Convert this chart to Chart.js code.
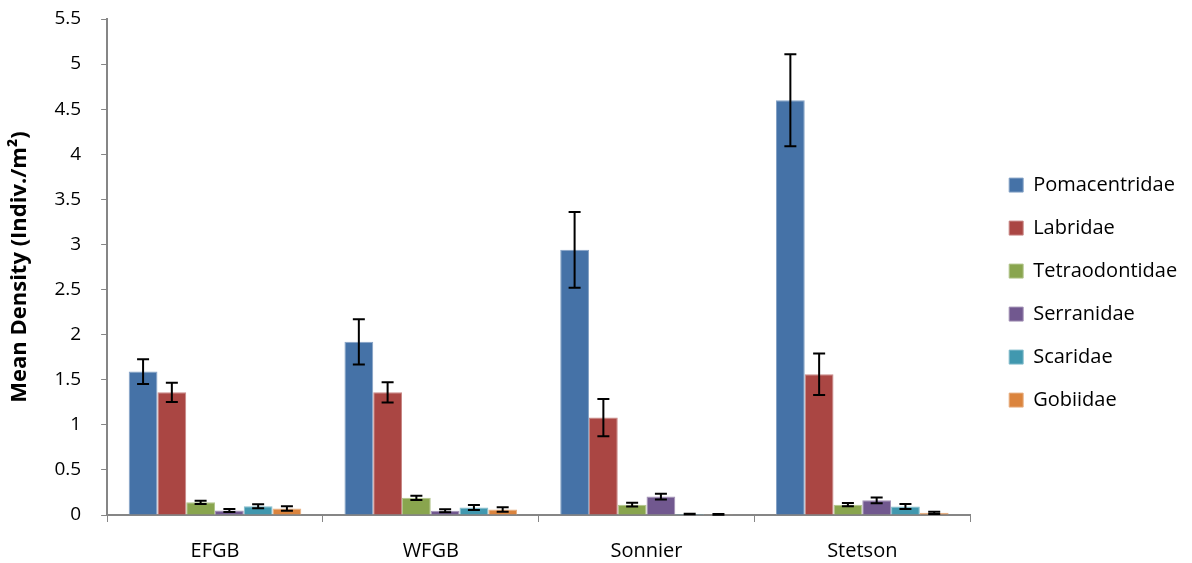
<!DOCTYPE html>
<html>
<head>
<meta charset="utf-8">
<script src="https://cdn.jsdelivr.net/npm/chart.js@4.4.1/dist/chart.umd.min.js"></script>
<style>
  html, body { margin: 0; padding: 0; background: #ffffff; }
  #wrap { width: 1192px; height: 563px; position: relative; }
</style>
</head>
<body>
<div id="wrap"><canvas id="c"></canvas></div>
<script>
const categories = ['EFGB', 'WFGB', 'Sonnier', 'Stetson'];
const seriesNames = ['Pomacentridae', 'Labridae', 'Tetraodontidae', 'Serranidae', 'Scaridae', 'Gobiidae'];
const seriesColors = ['#4572A7', '#AA4643', '#89A54E', '#71588F', '#4198AF', '#DB843D'];

const pomacentridae = [1.59, 1.92, 2.94, 4.60];
const labridae = [1.36, 1.36, 1.08, 1.56];
const tetraodontidae = [0.14, 0.19, 0.115, 0.115];
const serranidae = [0.05, 0.047, 0.205, 0.163];
const scaridae = [0.098, 0.083, 0.01, 0.094];
const gobiidae = [0.072, 0.062, 0.007, 0.024];

const pomacentridaeErr = [0.136, 0.25, 0.42, 0.51];
const labridaeErr = [0.106, 0.113, 0.207, 0.23];
const tetraodontidaeErr = [0.018, 0.024, 0.022, 0.017];
const serranidaeErr = [0.016, 0.016, 0.032, 0.032];
const scaridaeErr = [0.022, 0.027, 0.003, 0.028];
const gobiidaeErr = [0.026, 0.025, 0.003, 0.012];

const yTickValues = [0, 0.5, 1, 1.5, 2, 2.5, 3, 3.5, 4, 4.5, 5, 5.5];
const yTickLabels = ['0', '0.5', '1', '1.5', '2', '2.5', '3', '3.5', '4', '4.5', '5', '5.5'];

const seriesValues = [pomacentridae, labridae, tetraodontidae, serranidae, scaridae, gobiidae];
const seriesErrors = [pomacentridaeErr, labridaeErr, tetraodontidaeErr, serranidaeErr, scaridaeErr, gobiidaeErr];

function lighten(hex, amt) {
  const n = parseInt(hex.slice(1), 16);
  let r = (n >> 16) & 255, g = (n >> 8) & 255, b = n & 255;
  r = Math.round(r + (255 - r) * amt); g = Math.round(g + (255 - g) * amt); b = Math.round(b + (255 - b) * amt);
  return 'rgb(' + r + ',' + g + ',' + b + ')';
}

const datasets = seriesNames.map((name, i) => ({
  label: name,
  data: seriesValues[i],
  errors: seriesErrors[i],
  backgroundColor: seriesColors[i],
  borderColor: lighten(seriesColors[i], 0.35),
  borderWidth: 1,
  borderSkipped: 'bottom',
  yAxisID: 'y'
}));

const errorBarPlugin = {
  id: 'errorBars',
  afterDatasetsDraw(chart) {
    const ctx = chart.ctx;
    const yScale = chart.scales.y;
    ctx.save();
    ctx.strokeStyle = '#000000';
    ctx.lineWidth = 2;
    chart.data.datasets.forEach((ds, di) => {
      const meta = chart.getDatasetMeta(di);
      if (meta.hidden) return;
      meta.data.forEach((bar, i) => {
        const v = ds.data[i], e = ds.errors[i];
        const x = bar.x;
        const yTop = yScale.getPixelForValue(v + e);
        const yBot = yScale.getPixelForValue(Math.max(0, v - e));
        const cap = 6;
        ctx.beginPath();
        ctx.moveTo(x, yTop); ctx.lineTo(x, yBot);
        ctx.moveTo(x - cap, yTop); ctx.lineTo(x + cap, yTop);
        ctx.moveTo(x - cap, yBot); ctx.lineTo(x + cap, yBot);
        ctx.stroke();
      });
    });
    ctx.restore();
  }
};

const FONT = "'Open Sans', 'Liberation Sans', sans-serif";
Chart.defaults.font.family = FONT;
Chart.defaults.color = '#000000';

new Chart(document.getElementById('c'), {
  type: 'bar',
  data: { labels: categories, datasets: datasets },
  options: {
    responsive: true,
    maintainAspectRatio: false,
    animation: false,
    datasets: { bar: { barPercentage: 1.0, categoryPercentage: 0.8 } },
    layout: { padding: { left: 7, right: 10, top: 0, bottom: -17 } },
    plugins: {
      legend: {
        position: 'right',
        title: { display: true, text: ' ', font: { size: 1 }, padding: { top: 0, bottom: 4 } },
        labels: {
          boxWidth: 14,
          boxHeight: 14,
          padding: 23,
          font: { size: 20 },
          color: '#000000'
        }
      },
      tooltip: { enabled: false }
    },
    scales: {
      x: {
        offset: true,
        grid: {
          offset: true,
          drawOnChartArea: false,
          drawTicks: true,
          tickLength: 7,
          color: '#868686',
          lineWidth: 1
        },
        border: { color: '#868686', width: 2 },
        ticks: { font: { size: 20 }, padding: 17, color: '#000000' }
      },
      y: {
        min: 0,
        max: 5.5,
        afterBuildTicks(scale) {
          scale.ticks = yTickValues.map(v => ({ value: v }));
        },
        afterFit(scale) {
          scale.paddingTop = 19;
        },
        grid: {
          drawOnChartArea: false,
          drawTicks: true,
          tickLength: 6,
          color: '#868686',
          lineWidth: 1
        },
        border: { color: '#868686', width: 2 },
        ticks: {
          font: { size: 19 },
          padding: 20,
          color: '#000000',
          callback: function (value) {
            const idx = yTickValues.indexOf(value);
            return idx >= 0 ? yTickLabels[idx] : '';
          }
        },
        title: {
          display: true,
          text: 'Mean Density (Indiv./m²)',
          font: { size: 22, weight: 'bold' },
          color: '#000000',
          padding: { top: 0, bottom: 1 }
        }
      },
      gap: {
        type: 'linear',
        position: 'right',
        display: true,
        grid: { display: false, drawTicks: false },
        border: { display: false },
        ticks: { display: false },
        afterFit(scale) { scale.width = 16; }
      }
    }
  },
  plugins: [errorBarPlugin]
});
</script>
</body>
</html>
